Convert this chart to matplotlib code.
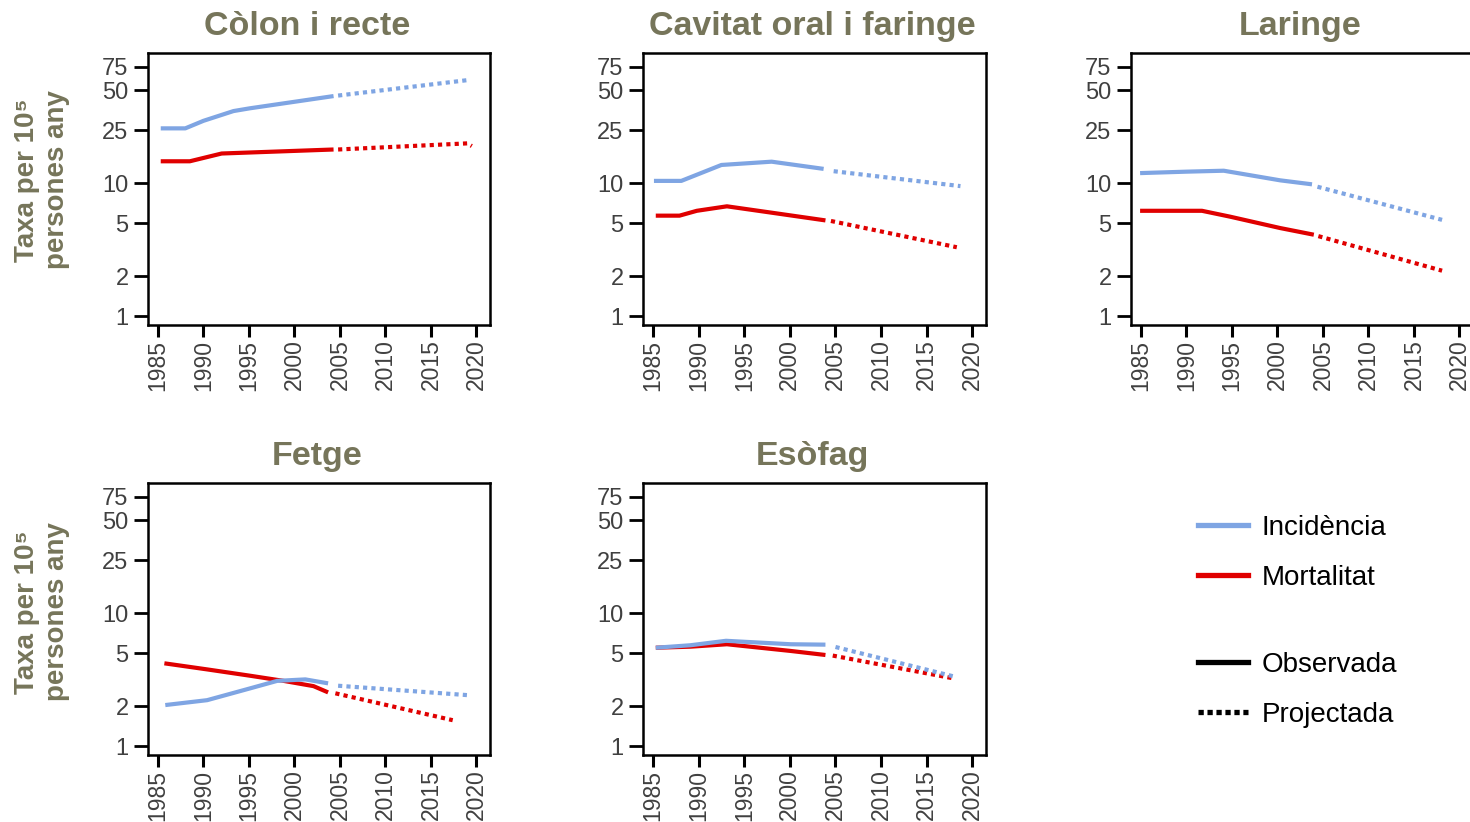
import matplotlib
matplotlib.use("Agg")
import matplotlib.pyplot as plt
from matplotlib.lines import Line2D

plt.rcParams['font.family'] = ['Liberation Sans', 'DejaVu Sans']

# panel titles
titles = ["Còlon i recte", "Cavitat oral i faringe", "Laringe", "Fetge", "Esòfag"]

# Còlon i recte
colon_inc_yr = [1985.3, 1988.0, 1990.0, 1993.3, 1995.1, 2004.3]
colon_inc = [25.8, 25.8, 29.4, 34.8, 36.5, 45.1]
colon_inc_proj_yr = [2004.8, 2019.1]
colon_inc_proj = [45.5, 59.5]
colon_mort_yr = [1985.3, 1988.5, 1992.0, 2004.3]
colon_mort = [14.6, 14.6, 16.7, 17.9]
colon_mort_proj_yr = [2004.8, 2019.0, 2019.5]
colon_mort_proj = [17.9, 19.9, 19.0]

# Cavitat oral i faringe
oral_inc_yr = [1985.1, 1988.1, 1992.5, 1998.0, 2003.7]
oral_inc = [10.4, 10.4, 13.7, 14.5, 12.8]
oral_inc_proj_yr = [2004.8, 2018.7]
oral_inc_proj = [12.3, 9.5]
oral_mort_yr = [1985.3, 1987.9, 1989.8, 1993.1, 1998.0, 2003.9]
oral_mort = [5.7, 5.7, 6.2, 6.7, 6.0, 5.25]
oral_mort_proj_yr = [2004.5, 2018.3]
oral_mort_proj = [5.2, 3.3]

# Laringe
lar_inc_yr = [1984.9, 1990.0, 1994.1, 2000.3, 2003.8]
lar_inc = [11.9, 12.2, 12.4, 10.5, 9.8]
lar_inc_proj_yr = [2004.4, 2018.1]
lar_inc_proj = [9.4, 5.3]
lar_mort_yr = [1984.9, 1991.7, 1994.8, 2000.3, 2004.0]
lar_mort = [6.2, 6.2, 5.6, 4.6, 4.1]
lar_mort_proj_yr = [2004.5, 2018.1]
lar_mort_proj = [4.0, 2.2]

# Fetge
liver_inc_yr = [1985.8, 1990.4, 1995.1, 1998.1, 2001.2, 2003.7]
liver_inc = [2.04, 2.22, 2.72, 3.1, 3.18, 2.97]
liver_inc_proj_yr = [2004.8, 2019.1]
liver_inc_proj = [2.85, 2.42]
liver_mort_yr = [1985.7, 1990.4, 1995.1, 1998.8, 2002.1, 2003.7]
liver_mort = [4.2, 3.78, 3.39, 3.1, 2.83, 2.54]
liver_mort_proj_yr = [2004.5, 2017.4]
liver_mort_proj = [2.5, 1.57]

# Esòfag
eso_inc_yr = [1985.3, 1989.1, 1993.0, 2000.1, 2003.9]
eso_inc = [5.5, 5.74, 6.2, 5.84, 5.8]
eso_inc_proj_yr = [2005.0, 2018.1]
eso_inc_proj = [5.57, 3.33]
eso_mort_yr = [1985.3, 1989.1, 1993.1, 2000.1, 2003.9]
eso_mort = [5.5, 5.6, 5.84, 5.2, 4.85]
eso_mort_proj_yr = [2004.7, 2017.9]
eso_mort_proj = [4.8, 3.24]

y_ticks = [1, 2, 5, 10, 25, 50, 75]
x_ticks = [1985, 1990, 1995, 2000, 2005, 2010, 2015, 2020]

blue = "#7fa5e3"
red = "#e00000"
olive = "#76755a"
tickgray = "#404040"

panels = [
    (colon_inc_yr, colon_inc, colon_inc_proj_yr, colon_inc_proj,
     colon_mort_yr, colon_mort, colon_mort_proj_yr, colon_mort_proj),
    (oral_inc_yr, oral_inc, oral_inc_proj_yr, oral_inc_proj,
     oral_mort_yr, oral_mort, oral_mort_proj_yr, oral_mort_proj),
    (lar_inc_yr, lar_inc, lar_inc_proj_yr, lar_inc_proj,
     lar_mort_yr, lar_mort, lar_mort_proj_yr, lar_mort_proj),
    (liver_inc_yr, liver_inc, liver_inc_proj_yr, liver_inc_proj,
     liver_mort_yr, liver_mort, liver_mort_proj_yr, liver_mort_proj),
    (eso_inc_yr, eso_inc, eso_inc_proj_yr, eso_inc_proj,
     eso_mort_yr, eso_mort, eso_mort_proj_yr, eso_mort_proj),
]

W, H = 1470, 822
# axes boxes in pixels: left, top, width, height
boxes = [(148, 53, 342, 272), (643, 53, 343, 272), (1131, 53, 342, 272),
         (148, 483, 342, 272), (643, 483, 343, 272)]
# small horizontal nudge of the titles (pixels)
title_dx = [-12, -2, -2, -2, -2]

fig = plt.figure(figsize=(W / 100, H / 100), dpi=100)

dot = (0, (1, 1))
for i in range(len(panels)):
    l, t, w, h = boxes[i]
    ax = fig.add_axes([l / W, 1 - (t + h) / H, w / W, h / H])
    ix, iy, ipx, ipy, mx, my, mpx, mpy = panels[i]
    ax.plot(mx, my, color=red, lw=3, solid_capstyle="butt")
    ax.plot(mpx, mpy, color=red, lw=3, linestyle=dot)
    ax.plot(ix, iy, color=blue, lw=3, solid_capstyle="butt")
    ax.plot(ipx, ipy, color=blue, lw=3, linestyle=dot)
    ax.set_yscale("log")
    ax.set_ylim(0.86, 95)
    ax.set_xlim(1983.9, 2021.5)
    ax.set_yticks(y_ticks)
    ax.set_yticklabels([str(v) for v in y_ticks])
    ax.minorticks_off()
    ax.set_xticks(x_ticks)
    ax.set_xticklabels([str(v) for v in x_ticks], rotation=90)
    ax.tick_params(axis="y", length=10, width=2, pad=4, labelsize=17,
                   labelcolor=tickgray, direction="out")
    ax.tick_params(axis="x", length=8.5, width=2.2, pad=2, labelsize=16.5,
                   labelcolor=tickgray, direction="out")
    for s in ax.spines.values():
        s.set_linewidth(1.8)
    ax.set_title(titles[i], fontsize=24.5, fontweight="bold", color=olive,
                 pad=13, x=0.5 + title_dx[i] / w)

# y labels for both rows
for yc in [180, 612]:
    fig.text(42 / W, 1 - yc / H, "Taxa per 10⁵\npersones any", rotation=90,
             ha="center", va="center", fontsize=20, fontweight="bold",
             color=olive, linespacing=1.2)

# legends
h1 = [Line2D([], [], color=blue, lw=3.8), Line2D([], [], color=red, lw=3.8)]
h2 = [Line2D([], [], color="black", lw=3.8),
      Line2D([], [], color="black", lw=3.8, linestyle=(0, (1, 0.7)))]
leg1 = fig.legend(h1, ["Incidència", "Mortalitat"], loc="center left",
                  bbox_to_anchor=(1198 / W, 1 - 553 / H), frameon=False,
                  fontsize=20, handlelength=1.8, handletextpad=0.5,
                  labelspacing=0.85, borderpad=0, borderaxespad=0)
leg2 = fig.legend(h2, ["Observada", "Projectada"], loc="center left",
                  bbox_to_anchor=(1198 / W, 1 - 690 / H), frameon=False,
                  fontsize=20, handlelength=1.8, handletextpad=0.5,
                  labelspacing=0.85, borderpad=0, borderaxespad=0)

fig.savefig("out.png", dpi=100)
